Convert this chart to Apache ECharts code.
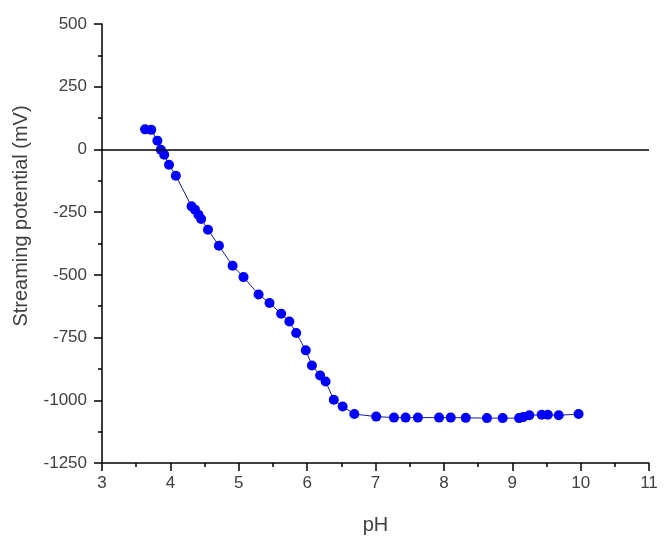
<!DOCTYPE html>
<html>
<head>
<meta charset="utf-8">
<script src="https://cdn.jsdelivr.net/npm/echarts@6/dist/echarts.min.js"></script>
<style>
html,body{margin:0;padding:0;background:#fff;}
#chart{width:667px;height:540px;}
</style>
</head>
<body>
<div id="chart"></div>
<script>
const phValues = [3.63, 3.72, 3.81, 3.86, 3.91, 3.98, 4.08, 4.31, 4.36, 4.41, 4.45, 4.55, 4.71, 4.91, 5.07, 5.29, 5.45, 5.62, 5.74, 5.84, 5.98, 6.07, 6.19, 6.27, 6.39, 6.52, 6.69, 7.01, 7.27, 7.44, 7.62, 7.93, 8.10, 8.32, 8.63, 8.86, 9.10, 9.16, 9.25, 9.43, 9.52, 9.68, 9.97];
const potentialValues = [80, 78, 35, -1, -21, -61, -105, -227, -240, -260, -277, -320, -384, -464, -509, -578, -612, -655, -686, -732, -801, -861, -901, -925, -998, -1025, -1055, -1065, -1069, -1069, -1069, -1069, -1069, -1070, -1071, -1071, -1071, -1067, -1060, -1058, -1058, -1060, -1055];
const xTitle = 'pH';
const yTitle = 'Streaming potential (mV)';

const data = phValues.map((x, i) => [x, potentialValues[i]]);
const font = '"Liberation Sans", Arial, sans-serif';

const chart = echarts.init(document.getElementById('chart'), null, {renderer: 'canvas'});
chart.setOption({
  animation: false,
  backgroundColor: '#ffffff',
  grid: {left: 102, top: 24, right: 18, bottom: 77, containLabel: false},
  graphic: [{
    type: 'text',
    x: 21, y: 216,
    rotation: Math.PI / 2,
    style: {
      text: yTitle,
      fontFamily: font, fontSize: 20, fill: '#404040',
      align: 'center', verticalAlign: 'middle'
    }
  }],
  xAxis: {
    type: 'value', min: 3, max: 11, interval: 1,
    name: xTitle, nameLocation: 'middle', nameGap: 52,
    nameTextStyle: {fontFamily: font, fontSize: 20, color: '#404040'},
    axisLine: {show: true, onZero: false, lineStyle: {color: '#000', width: 1.5}},
    axisTick: {show: true, inside: false, length: 8, lineStyle: {color: '#000', width: 1.5}},
    minorTick: {show: true, splitNumber: 2, length: 4, lineStyle: {color: '#000', width: 1.5}},
    axisLabel: {fontFamily: font, fontSize: 17, color: '#404040', margin: 12},
    splitLine: {show: false}
  },
  yAxis: {
    type: 'value', min: -1250, max: 500, interval: 250,
    axisLine: {show: true, onZero: false, lineStyle: {color: '#000', width: 1.5}},
    axisTick: {show: true, inside: false, length: 8, lineStyle: {color: '#000', width: 1.5}},
    minorTick: {show: true, splitNumber: 2, length: 4, lineStyle: {color: '#000', width: 1.5}},
    axisLabel: {fontFamily: font, fontSize: 17, color: '#404040', margin: 15,
      formatter: v => String(v)},
    splitLine: {show: false}
  },
  series: [{
    type: 'line',
    data: data,
    symbol: 'circle',
    symbolSize: 10,
    itemStyle: {color: '#0000ff'},
    lineStyle: {color: '#1a1a9a', width: 1},
    markLine: {
      silent: true,
      symbol: ['none', 'none'],
      label: {show: false},
      lineStyle: {color: '#000', width: 1.5, type: 'solid'},
      data: [{yAxis: 0}]
    }
  }]
});
</script>
</body>
</html>
